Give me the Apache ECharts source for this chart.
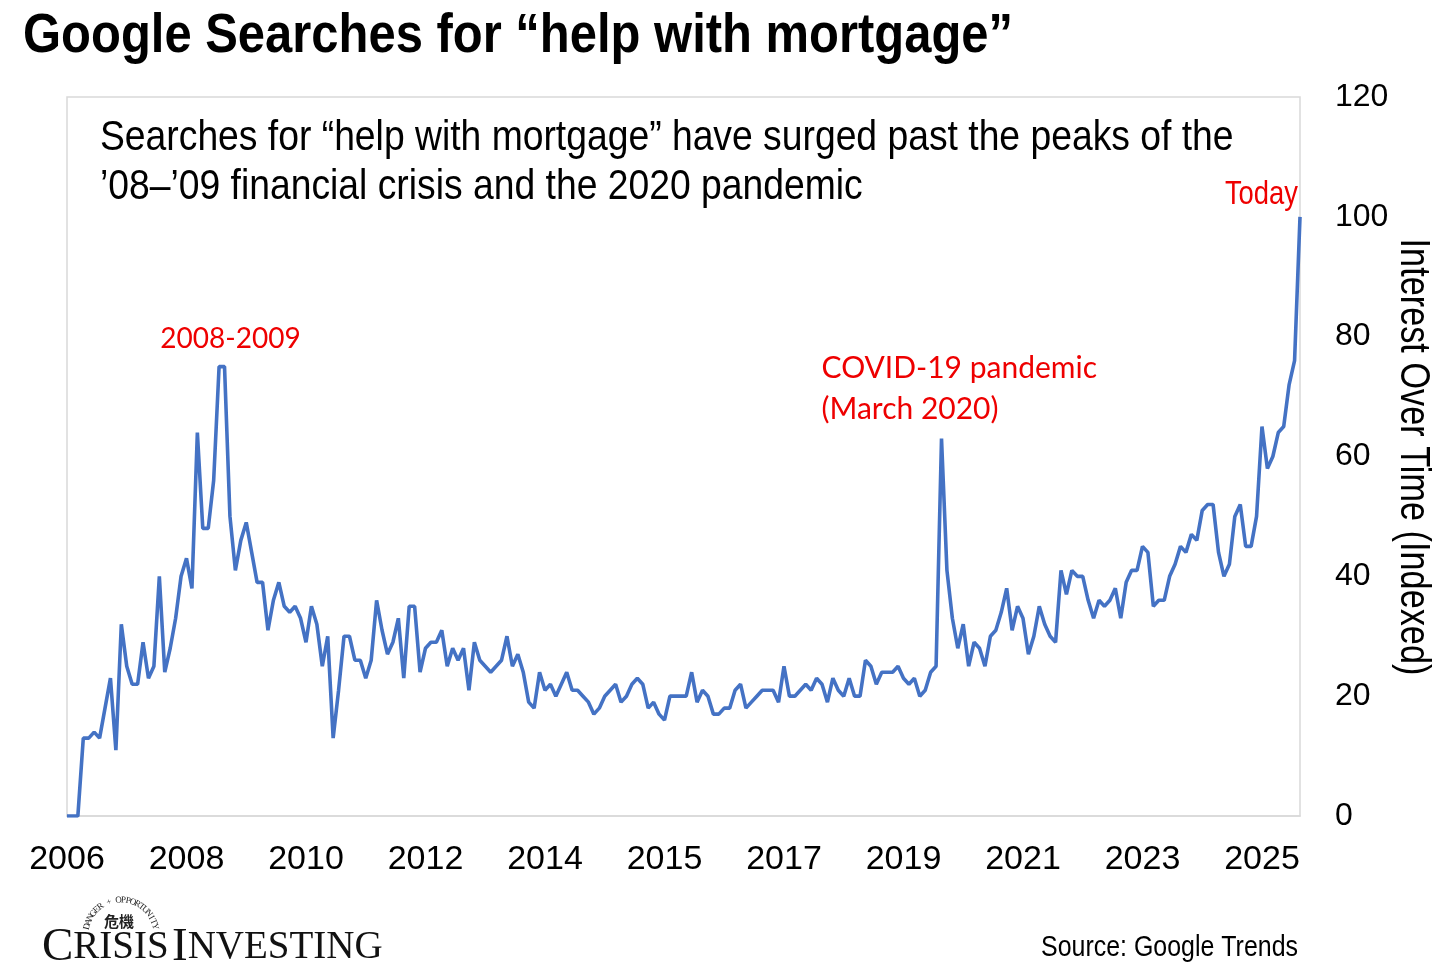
<!DOCTYPE html>
<html>
<head>
<meta charset="utf-8">
<script src="https://cdn.jsdelivr.net/npm/echarts@6/dist/echarts.min.js"></script>
<style>
html,body{margin:0;padding:0;background:#fff;}
#chart{width:1456px;height:980px;}
</style>
</head>
<body>
<div id="chart"></div>
<script>
// x tick labels (one every 22 points)
const tickLabels = ['2006','2008','2010','2012','2014','2015','2017','2019','2021','2023','2025'];
const tickEvery = 22;
// Google Trends interest (indexed)
const interest = [
  0,0,0,13,13,14,13,18,23,11,32,25,22,22,29,23,25,40,24,28,33,40,43,38,64,48,48,56,75,75,50,41,46,49,44,39,39,31,
  36,39,35,34,35,33,29,35,32,25,30,13,21,30,30,26,26,23,26,36,31,27,29,33,23,35,35,24,28,29,29,31,25,28,26,28,21,
  29,26,25,24,25,26,30,25,27,24,19,18,24,21,22,20,22,24,21,21,20,19,17,18,20,21,22,19,20,22,23,22,18,19,17,16,20,
  20,20,20,24,19,21,20,17,17,18,18,21,22,18,19,20,21,21,21,19,25,20,20,21,22,21,23,22,19,23,21,20,23,20,20,26,25,
  22,24,24,24,25,23,22,23,20,21,24,25,63,41,33,28,32,25,29,28,25,30,31,34,38,31,35,33,27,30,35,32,30,29,41,37,41,
  40,40,36,33,36,35,36,38,33,39,41,41,45,44,35,36,36,40,42,45,44,47,
  46,51,52,52,44,40,42,50,52,45,45,50,65,58,60,64,65,72,76,100
];
const yTicks = {min:0, max:120, step:20};
const titleText = 'Google Searches for \u201Chelp with mortgage\u201D';
const subtitleLines = ['Searches for \u201Chelp with mortgage\u201D have surged past the peaks of the', '\u201908\u2013\u201909 financial crisis and the 2020 pandemic'];
const yAxisName = 'Interest Over Time (Indexed)';
const sourceText = 'Source: Google Trends';
const annotations = [
  {text:'2008-2009', idx:29, val:75},
  {text:'COVID-19 pandemic\n(March 2020)', idx:161, val:63},
  {text:'Today', idx:227, val:100}
];

const SANS = '"Liberation Sans",Arial,sans-serif';
const SERIF = '"Liberation Serif","DejaVu Serif",serif';
const RED = '#ee0000';
const seriesData = interest.map((v,i)=>[i,v]);

const chart = echarts.init(document.getElementById('chart'), null, {renderer:'canvas'});

// logo arc letters
const arcText = 'DANGER + OPPORTUNITY';
const arcEls = [];
const cx = 121, cy = 935, r = 35;
const a0 = -166, a1 = -14;
for (let k=0;k<arcText.length;k++){
  const ang = a0 + (a1-a0)*k/(arcText.length-1);
  const rad = ang*Math.PI/180;
  arcEls.push({
    type:'text',
    x: cx + r*Math.cos(rad), y: cy + r*Math.sin(rad),
    rotation: -(ang+90)*Math.PI/180,
    style:{text:arcText[k], font:'9px ' + SERIF, fill:'#222', align:'center', verticalAlign:'middle'}
  });
}

chart.setOption({
  animation:false,
  backgroundColor:'#fff',
  grid:{left:67, right:156, top:97, bottom:164, show:true, borderColor:'#d9d9d9', borderWidth:1.5, containLabel:false},
  xAxis:{
    type:'value', min:0, max:interest.length-1, interval:tickEvery,
    axisLine:{show:true, lineStyle:{color:'#d9d9d9', width:1.5}},
    axisTick:{show:false},
    splitLine:{show:false},
    axisLabel:{
      color:'#000', fontFamily:SANS, fontSize:34, margin:27,
      formatter:(v)=> (v % tickEvery === 0 && tickLabels[v/tickEvery]) ? tickLabels[v/tickEvery] : ''
    }
  },
  yAxis:{
    type:'value', position:'right', min:yTicks.min, max:yTicks.max, interval:yTicks.step,
    axisLine:{show:false}, axisTick:{show:false}, splitLine:{show:false},
    axisLabel:{color:'#000', fontFamily:SANS, fontSize:32, margin:35, align:'left'}
  },
  series:[{
    type:'line', data:seriesData, showSymbol:false, symbol:'none',
    lineStyle:{color:'#4472C4', width:3.6}, itemStyle:{color:'#4472C4'},
    markPoint:{
      symbol:'circle', symbolSize:0,
      data:[
        {coord:[annotations[0].idx, annotations[0].val], label:{show:true, formatter:annotations[0].text, color:RED, fontFamily:'Lato,"Open Sans",sans-serif', fontSize:28, position:'top', distance:14, offset:[6,0]}},
        {coord:[annotations[1].idx, annotations[1].val], label:{show:true, formatter:annotations[1].text, color:RED, fontFamily:'Lato,"Open Sans",sans-serif', fontSize:30, lineHeight:41, position:'top', distance:9, align:'left', offset:[-120,0]}}
      ]
    }
  }],
  graphic:[
    {type:'text', x:23, y:37, scaleX:0.89, style:{text:titleText, font:'bold 55px ' + SANS, fill:'#000', align:'left', verticalAlign:'middle'}},
    {type:'text', x:100, y:138, scaleX:0.867, style:{text:subtitleLines[0], font:'43px ' + SANS, fill:'#000', align:'left', verticalAlign:'middle'}},
    {type:'text', x:100, y:187, scaleX:0.867, style:{text:subtitleLines[1], font:'43px ' + SANS, fill:'#000', align:'left', verticalAlign:'middle'}},
    {type:'text', x:1298, y:195, scaleX:0.83, style:{text:annotations[2].text, font:'33px ' + SANS, fill:RED, align:'right', verticalAlign:'middle'}},
    {type:'text', x:1298, y:948, scaleX:0.86, style:{text:sourceText, font:'29px ' + SANS, fill:'#000', align:'right', verticalAlign:'middle'}},
    {type:'text', x:1413, y:457, rotation:-Math.PI/2, scaleX:0.816, style:{text:yAxisName, font:'42px ' + SANS, fill:'#000', align:'center', verticalAlign:'middle'}},
    {type:'text', x:42, y:948, style:{
      text:'{b|C}{s|RISIS} {b|I}{s|NVESTING}', verticalAlign:'middle',
      rich:{b:{fontFamily:SERIF, fontSize:47, fill:'#111'},
            s:{fontFamily:SERIF, fontSize:39, fill:'#111'}}
    }},
    {type:'text', x:119, y:921, style:{text:'危機', font:'bold 15px "Noto Sans CJK TC",serif', fill:'#222', align:'center', verticalAlign:'middle'}}
  ].concat(arcEls)
});
</script>
</body>
</html>
